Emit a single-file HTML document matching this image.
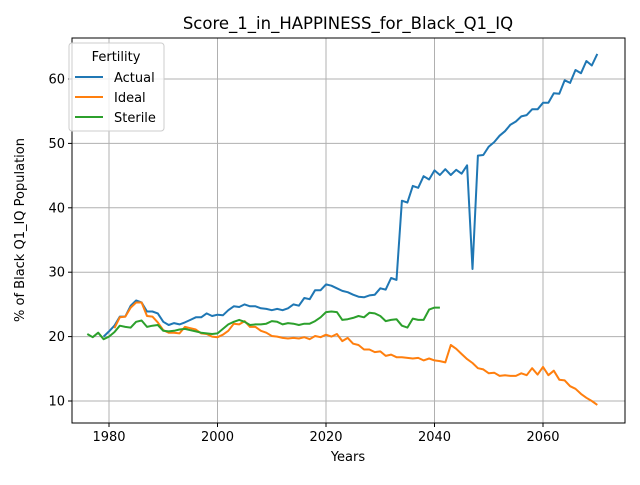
<!DOCTYPE html>
<html><head><meta charset="utf-8"><style>
body{margin:0;background:#fff;font-family:"Liberation Sans","DejaVu Sans",sans-serif}
svg text{font-family:"DejaVu Sans","Liberation Sans",sans-serif}
</style></head><body>
<svg id="chart" width="640" height="480" xmlns="http://www.w3.org/2000/svg"></svg>
<script>
const actualStart=1979;
const actualValues=[20.0,20.8,21.7,23.1,23.1,24.8,25.6,25.3,23.9,23.9,23.6,22.3,21.8,22.1,21.9,22.2,22.6,23.0,23.0,23.6,23.2,23.4,23.3,24.1,24.7,24.6,25.0,24.7,24.7,24.4,24.3,24.1,24.3,24.1,24.4,25.0,24.8,26.0,25.8,27.2,27.2,28.1,27.9,27.5,27.1,26.9,26.5,26.2,26.1,26.4,26.5,27.5,27.3,29.1,28.8,41.1,40.8,43.4,43.1,44.9,44.4,45.8,45.1,46.0,45.1,45.9,45.3,46.6,30.5,48.1,48.2,49.5,50.2,51.2,51.9,52.9,53.4,54.2,54.4,55.3,55.3,56.3,56.3,57.8,57.7,59.8,59.4,61.4,60.9,62.8,62.1,63.9];
const idealStart=1981;
const idealValues=[21.3,23.0,23.1,24.5,25.3,25.3,23.2,23.1,22.2,21.0,20.6,20.6,20.5,21.5,21.3,21.1,20.5,20.4,20.0,19.9,20.3,20.9,22.0,21.9,22.4,21.5,21.5,20.9,20.6,20.1,20.0,19.8,19.7,19.8,19.7,19.9,19.6,20.1,19.9,20.3,20.0,20.4,19.3,19.8,18.9,18.7,18.0,18.0,17.6,17.7,17.0,17.2,16.8,16.8,16.7,16.6,16.7,16.3,16.6,16.3,16.2,16.0,18.7,18.1,17.3,16.5,15.9,15.1,14.9,14.3,14.4,13.9,14.0,13.9,13.9,14.3,14.0,15.1,14.1,15.3,14.0,14.7,13.3,13.2,12.3,11.9,11.1,10.5,10.0,9.4];
const sterileStart=1976;
const sterileValues=[20.4,19.9,20.6,19.6,20.0,20.7,21.7,21.5,21.4,22.3,22.5,21.5,21.7,21.8,20.9,20.8,20.9,21.1,21.2,21.0,20.8,20.6,20.5,20.4,20.5,21.2,21.9,22.3,22.6,22.3,21.8,21.9,21.9,22.0,22.4,22.3,21.9,22.1,22.0,21.8,22.0,22.0,22.4,23.0,23.8,23.9,23.8,22.6,22.7,22.9,23.2,23.0,23.7,23.6,23.2,22.4,22.6,22.7,21.7,21.4,22.8,22.6,22.6,24.2,24.5,24.5];
const xTicks=[1980,2000,2020,2040,2060];
const yTicks=[10,20,30,40,50,60];

const L=72,R=625,T=38,B=423;
const x=v=>109+(v-1980)*5.425;
const y=v=>401-(v-10)*6.44;
const svg=document.getElementById('chart');
const NS='http://www.w3.org/2000/svg';
function el(tag,attrs,parent){const e=document.createElementNS(NS,tag);for(const k in attrs)e.setAttribute(k,attrs[k]);(parent||svg).appendChild(e);return e;}

xTicks.forEach(t=>{
  const g=el('line',{x1:x(t),x2:x(t),y1:T,y2:B,stroke:'#b0b0b0','stroke-width':1});
  
  
  el('line',{x1:x(t),x2:x(t),y1:B,y2:B+4,stroke:'#000'});
  const tx=el('text',{x:x(t),y:B+18,'text-anchor':'middle','font-size':13});
  tx.textContent=t;
  
  
});
yTicks.forEach(t=>{
  const g=el('line',{x1:L,x2:R,y1:y(t),y2:y(t),stroke:'#b0b0b0','stroke-width':1});
  
  
  el('line',{x1:L-4,x2:L,y1:y(t),y2:y(t),stroke:'#000'});
  const tx=el('text',{x:L-7,y:y(t)+4.5,'text-anchor':'end','font-size':13});
  tx.textContent=t;
  
  
});

function series(start,vals,color,name){
  const pts=vals.map((v,i)=>x(start+i).toFixed(1)+','+y(v).toFixed(1)).join(' ');
  const p=el('polyline',{points:pts,fill:'none',stroke:color,'stroke-width':2,'stroke-linejoin':'round'});
  
  
}
series(actualStart,actualValues,'#1f77b4','actual-line');
series(idealStart,idealValues,'#ff7f0e','ideal-line');
series(sterileStart,sterileValues,'#2ca02c','sterile-line');
</script>
<svg style="position:absolute;left:0;top:0" width="640" height="480" xmlns="http://www.w3.org/2000/svg">
  <rect x="72" y="38" width="553" height="385" fill="none" stroke="#000" stroke-width="1"/>
  <text x="348" y="29" text-anchor="middle" font-size="16.5">Score_1_in_HAPPINESS_for_Black_Q1_IQ</text>
  <text x="348" y="461" text-anchor="middle" font-size="13">Years</text>
  <text transform="translate(24,230) rotate(-90)" text-anchor="middle" font-size="13">% of Black Q1_IQ Population</text>
  <g>
    <rect x="69" y="43" width="95" height="88" rx="3" fill="#fff" fill-opacity="0.8" stroke="#ccc"/>
    <text x="116" y="61" text-anchor="middle" font-size="13">Fertility</text>
    <g><line x1="75" x2="103" y1="77" y2="77" stroke="#1f77b4" stroke-width="2"/><text x="114" y="82" font-size="13">Actual</text></g>
    <g><line x1="75" x2="103" y1="97" y2="97" stroke="#ff7f0e" stroke-width="2"/><text x="114" y="102" font-size="13">Ideal</text></g>
    <g><line x1="75" x2="103" y1="117" y2="117" stroke="#2ca02c" stroke-width="2"/><text x="114" y="122" font-size="13">Sterile</text></g>
  </g>
</svg>
</body></html>
